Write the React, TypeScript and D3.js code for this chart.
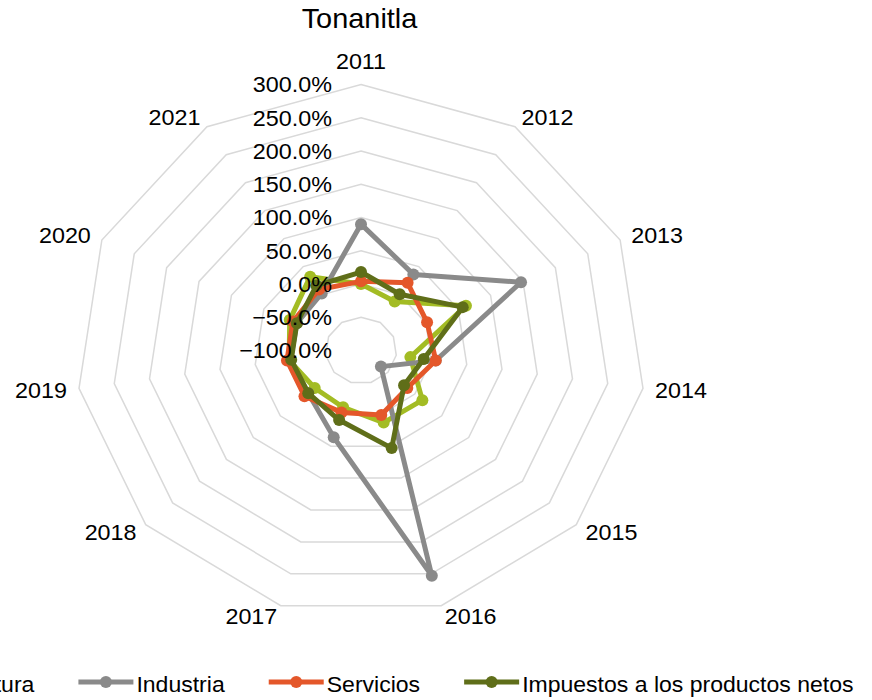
import React from "react";
import * as d3 from "d3";

// Values (percent change, per year)
const years = ["2011", "2012", "2013", "2014", "2015", "2016", "2017", "2018", "2019", "2020", "2021"];
const agricultura = [0, -12.5, 62, -30, 14, 13, -11, -14, 2, 10, 32];
const industria = [90, 36, 147, 6, -63, 253, 36, -2, 0, -1, 2];
const servicios = [4, 21, 2, 6, -14, 1, -3, 5, 5, 5, 9];
const impuestos = [18, 0.5, 57, -11, -20, 53, 9, -2, -1, -1, 16];

const seriesNames = ["Agricultura", "Industria", "Servicios", "Impuestos a los productos netos"];
const seriesValues = [agricultura, industria, servicios, impuestos];
const seriesColors = ["#a3bc24", "#8a8a8a", "#e4572a", "#5f6e19"];
const radialTicks = [-100, -50, 0, 50, 100, 150, 200, 250, 300];

const W = 872, H = 700;
const cx = 361, cy = 350.5;
const R = 266;
const SX = 1.071; // the source picture is a bit wider than tall
const FONT = "'Liberation Sans', Arial, sans-serif";

const rScale = d3.scaleLinear().domain([-100, 300]).range([0, R]);
const aScale = d3.scaleLinear().domain([0, years.length]).range([0, 2 * Math.PI]);

function pt(i: number, r: number): [number, number] {
    const a = aScale(i);
    return [cx + SX * r * Math.sin(a), cy - r * Math.cos(a)];
}

const closedLine = d3.line<[number, number]>().curve(d3.curveLinearClosed);

function Txt({ x, y, size, anchor = "start", children }: any) {
    return (
        <text
            transform={`translate(${x},${y}) scale(${SX},1)`}
            fontSize={size}
            fontFamily={FONT}
            textAnchor={anchor}
            fill="#000"
        >
            {children}
        </text>
    );
}

function measure(text: string, size: number) {
    const ctx = document.createElement("canvas").getContext("2d");
    if (!ctx) return text.length * size * 0.5;
    ctx.font = `${size}px "Liberation Sans"`;
    return ctx.measureText(text).width;
}

export default function App() {
    const axisSize = 21.8;
    const capHalf = axisSize * 0.716 / 2;
    const labelR = R + 11.3;

    // legend layout
    const legSize = 21.5;
    const lineLen = 55, gapText = 3, gapItem = 44;
    const widths = seriesNames.map(n => measure(n, legSize) * SX);
    const total = d3.sum(widths) + seriesNames.length * (lineLen + gapText) + (seriesNames.length - 1) * gapItem;
    let lx = 360 - total / 2;
    const legendItems = seriesNames.map((n, i) => {
        const x0 = lx;
        lx += lineLen + gapText + widths[i] + gapItem;
        return { name: n, x0, color: seriesColors[i] };
    });
    const legY = 682;

    return (
        <svg width={W} height={H} style={{ position: "absolute", left: 0, top: 0, background: "#fff" }}>
            {/* title */}
            <Txt x={359.5} y={28.3} size={27} anchor="middle">Tonanitla</Txt>

            {/* grid rings */}
            <g fill="none" stroke="#d9d9d9" strokeWidth={1.5}>
                {radialTicks.filter(t => t > -100).map(t => (
                    <path key={t} d={closedLine(years.map((_, i) => pt(i, rScale(t))))!} />
                ))}
            </g>

            {/* category labels */}
            {years.map((y, i) => {
                const a = aScale(i);
                const s = Math.sin(a);
                const [px, py] = pt(i, labelR);
                if (Math.abs(s) < 0.05) {
                    return <Txt key={y} x={px} y={py - 12.4 + capHalf} size={axisSize} anchor="middle">{y}</Txt>;
                }
                return <Txt key={y} x={px} y={py + capHalf} size={axisSize} anchor={s > 0 ? "start" : "end"}>{y}</Txt>;
            })}

            {/* series */}
            {seriesValues.map((vals, si) => {
                const pts = vals.map((v, i) => pt(i, rScale(v)));
                return (
                    <g key={si}>
                        <path d={closedLine(pts)!} fill="none" stroke={seriesColors[si]} strokeWidth={5} strokeLinejoin="round" />
                        {pts.map((p, i) => (
                            <circle key={i} cx={p[0]} cy={p[1]} r={6} fill={seriesColors[si]} />
                        ))}
                    </g>
                );
            })}

            {/* radial tick labels */}
            {radialTicks.map(t => (
                <Txt key={t} x={332} y={cy - rScale(t) + capHalf} size={axisSize} anchor="end">
                    {d3.format(".1f")(t) + "%"}
                </Txt>
            ))}

            {/* legend */}
            {legendItems.map(it => (
                <g key={it.name}>
                    <line x1={it.x0} x2={it.x0 + lineLen} y1={legY} y2={legY} stroke={it.color} strokeWidth={5} />
                    <circle cx={it.x0 + lineLen / 2} cy={legY} r={6} fill={it.color} />
                    <Txt x={it.x0 + lineLen + gapText} y={legY + 9.7} size={legSize}>{it.name}</Txt>
                </g>
            ))}
        </svg>
    );
}
